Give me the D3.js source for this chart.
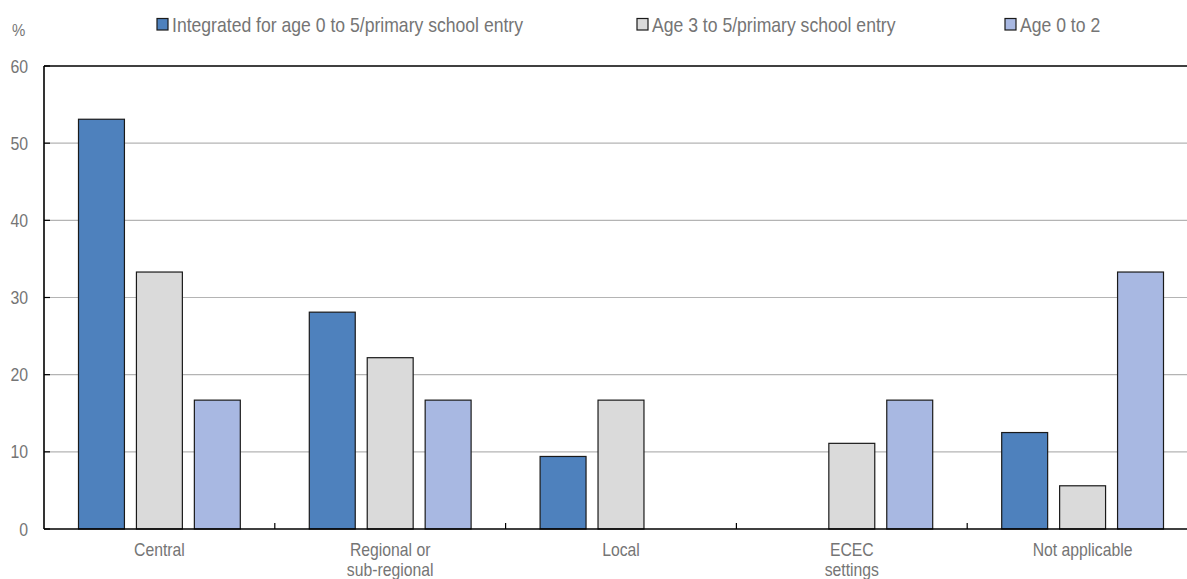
<!DOCTYPE html>
<html><head><meta charset="utf-8">
<script src="https://cdn.jsdelivr.net/npm/d3@7"></script>
<style>
body{margin:0;background:#fff;overflow:hidden}
text{font-family:"Liberation Sans","Arial",sans-serif;fill:#757575}
</style></head>
<body><svg id="c" width="1187" height="579"></svg>
<script>
const categories = [["Central"],["Regional or","sub-regional"],["Local"],["ECEC","settings"],["Not applicable"]];
const seriesNames = ["Integrated for age 0 to 5/primary school entry","Age 3 to 5/primary school entry","Age 0 to 2"];
const integrated = [53.1, 28.1, 9.4, 0, 12.5];
const age3to5 = [33.3, 22.2, 16.7, 11.1, 5.6];
const age0to2 = [16.7, 16.7, 0, 16.7, 33.3];
const yTicks = [0,10,20,30,40,50,60];
const colors = ["#4e81bd","#dadada","#a8b8e2"];

(function(){
const svg = d3.select("#c");
const pL = 44, pR = 1198, pT = 66, pB = 529;
const catIdx = categories.map((d,i)=>i);
const x = d3.scaleBand().domain(catIdx).range([pL,pR]).paddingInner(0).paddingOuter(0);
const xs = d3.scaleBand().domain([0,1,2]).range([34.5, x.bandwidth()-34.5]).paddingInner(0.207).paddingOuter(0);
const y = d3.scaleLinear().domain([0,60]).range([pB,pT]);

svg.append("g").selectAll("line").data(yTicks.filter(t=>t>0&&t<60)).join("line")
  .attr("x1",pL).attr("x2",pR).attr("y1",d=>y(d)).attr("y2",d=>y(d))
  .attr("stroke","#b4b4b4").attr("stroke-width",1.2);

svg.append("g").selectAll("line").data(yTicks).join("line")
  .attr("x1",pL).attr("x2",pL+6).attr("y1",d=>y(d)).attr("y2",d=>y(d))
  .attr("stroke","#000").attr("stroke-width",1.2);

const series = [integrated, age3to5, age0to2];
series.forEach((vals,si)=>{
  svg.append("g").selectAll("rect").data(vals.map((v,i)=>({v,i})).filter(d=>d.v>0)).join("rect")
    .attr("x",d=>x(d.i)+xs(si)).attr("width",xs.bandwidth())
    .attr("y",d=>y(d.v)).attr("height",d=>y(0)-y(d.v))
    .attr("fill",colors[si]).attr("stroke","#1a1a1a").attr("stroke-width",1.2);
});

svg.append("line").attr("x1",pL).attr("x2",pR).attr("y1",pT).attr("y2",pT).attr("stroke","#000").attr("stroke-width",1.6);
svg.append("line").attr("x1",pL).attr("x2",pL).attr("y1",pT).attr("y2",pB).attr("stroke","#000").attr("stroke-width",1.6);
svg.append("line").attr("x1",pL).attr("x2",pR).attr("y1",pB).attr("y2",pB).attr("stroke","#000").attr("stroke-width",1.6);

svg.append("g").selectAll("line").data(catIdx.slice(1)).join("line")
  .attr("x1",d=>x(d)).attr("x2",d=>x(d)).attr("y1",pB).attr("y2",pB-6)
  .attr("stroke","#000").attr("stroke-width",1.2);

svg.append("g").selectAll("text").data(yTicks).join("text")
  .attr("transform",d=>`translate(28,${y(d)+6.5}) scale(0.88,1)`)
  .attr("text-anchor","end").attr("font-size",18).text(d=>d);
svg.append("text").attr("transform","translate(12,36) scale(0.88,1)").attr("font-size",17).text("%");

const xl = svg.append("g").selectAll("text").data(categories.map((c,i)=>({c,i}))).join("text")
  .attr("transform",d=>`translate(${x(d.i)+x.bandwidth()/2},556) scale(0.83,1)`)
  .attr("text-anchor","middle").attr("font-size",19);
xl.selectAll("tspan").data(d=>d.c.map((t,j)=>({t,j}))).join("tspan")
  .attr("x",0).attr("dy",d=>d.j===0?0:20).text(d=>d.t);

const legX = [157, 637, 1005];
const lg = svg.append("g").selectAll("g").data(seriesNames.map((n,i)=>({n,i}))).join("g")
  .attr("transform",d=>`translate(${legX[d.i]},18.5)`);
lg.append("rect").attr("width",11).attr("height",11.5).attr("fill",d=>colors[d.i]).attr("stroke","#1a1a1a").attr("stroke-width",1.2);
lg.append("text").attr("transform","translate(15,13) scale(0.88,1)").attr("font-size",20).text(d=>d.n);
})();
</script></body></html>
